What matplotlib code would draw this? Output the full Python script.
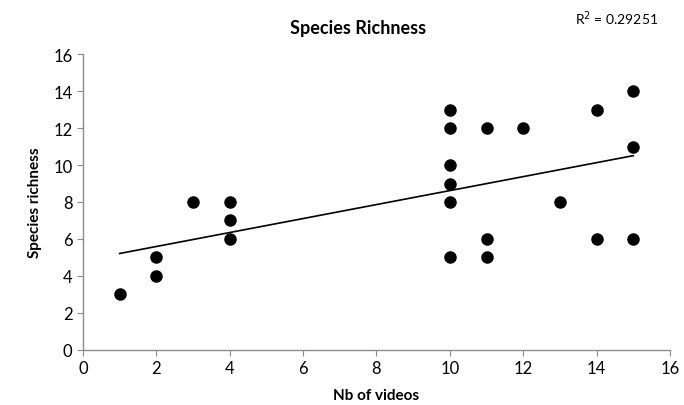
import numpy as np
import matplotlib.pyplot as plt

plt.rcParams['font.family'] = ['Lato', 'DejaVu Sans']

nb_videos = [1, 2, 2, 3, 4, 4, 4, 10, 10, 10, 10, 10, 10, 11, 11, 11, 12, 13, 14, 14, 15, 15, 15]
richness = [3, 5, 4, 8, 8, 7, 6, 13, 12, 10, 9, 8, 5, 12, 6, 5, 12, 8, 13, 6, 14, 11, 6]
r2_label = "R$^2$ = 0.29251"

fig = plt.figure(figsize=(6.84, 4.06), dpi=100)
ax = fig.add_axes([0.1213, 0.1355, 0.8582, 0.729])

ax.scatter(nb_videos, richness, s=64, color='black', zorder=3)

# linear trend line
x = np.array(nb_videos, dtype=float)
y = np.array(richness, dtype=float)
slope, intercept = np.polyfit(x, y, 1)
xs = np.array([x.min(), x.max()])
ax.plot(xs, slope * xs + intercept, color='black', lw=1.2)

ax.set_xlim(0, 16)
ax.set_ylim(0, 16)
ax.set_xticks(range(0, 17, 2))
ax.set_yticks(range(0, 17, 2))
for s in ['top', 'right']:
    ax.spines[s].set_visible(False)
for s in ['left', 'bottom']:
    ax.spines[s].set_color('#8c8c8c')
    ax.spines[s].set_linewidth(1)
ax.tick_params(colors='#8c8c8c', labelcolor='black', labelsize=12, length=4, direction='out')

ax.set_xlabel('Nb of videos', fontsize=11, fontweight='bold', labelpad=8)
ax.set_ylabel('Species richness', fontsize=11, fontweight='bold', labelpad=8)
fig.text(0.523, 0.93, 'Species Richness', ha='center', va='center', fontsize=13, fontweight='bold')
fig.text(0.84, 0.955, r2_label, ha='left', va='center', fontsize=10)

fig.savefig('out.png', dpi=100)
